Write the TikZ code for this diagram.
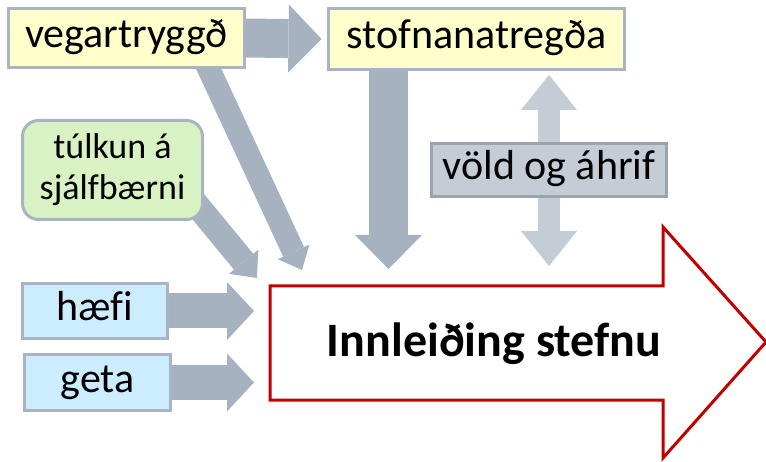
\documentclass[tikz,border=0pt]{standalone}
\usepackage{fontspec}
\setmainfont{Carlito}[Ligatures=CommonOff]
\usetikzlibrary{arrows.meta,positioning,backgrounds}
\definecolor{flowgray}{HTML}{A7B2C0}
\definecolor{lightflow}{HTML}{C4CCD6}
\definecolor{boxedge}{HTML}{A9B4C2}
\definecolor{yellowfill}{HTML}{FFFFCC}
\definecolor{bluefill}{HTML}{CCECFF}
\definecolor{greenfill}{HTML}{D9F2C4}
\definecolor{redline}{HTML}{C00000}

\begin{document}
\begin{tikzpicture}[x=1pt,y=-1pt,
    box base/.style={draw=boxedge,line width=3pt,inner sep=0pt},
    box/.style={box base,font=\fontsize{42}{46}\selectfont,text height=30pt,text depth=10pt},
    yellow box/.style={box,fill=yellowfill},
    blue box/.style={box,fill=bluefill},
    green box/.style={box base,fill=greenfill,rounded corners=16pt,align=center,
      font=\fontsize{36}{41}\selectfont},
    gray box/.style={box,fill=lightflow,draw=boxedge!85!black!90},
    flow/.style n args={3}{draw=flowgray,line width=#1,
      -{Triangle[width=#2,length=#3,line width=0pt]}},
    dbl flow/.style={draw=lightflow,line width=22pt,
      {Triangle[width=56pt,length=35pt,line width=0pt]}-{Triangle[width=56pt,length=35pt,line width=0pt]}}]

    \useasboundingbox (0,0) rectangle (766,462);

    % boxes
    \node[yellow box,minimum width=236pt,minimum height=59pt] (veg) at (126.5,38) {vegartryggð};
    \node[yellow box,minimum width=296pt,minimum height=61pt] (stofn) at (476.5,39) {stofnanatregða};
    \node[green box,minimum width=180pt,minimum height=99pt] (tulk) at (112.5,170) {túlkun á\\sjálfbærni};
    \node[blue box,minimum width=145pt,minimum height=55pt] (haefi) at (95,311) {hæfi};
    \node[blue box,minimum width=146pt,minimum height=56pt] (geta) at (97.5,382.5) {geta};
    \node[gray box,minimum width=235pt,minimum height=53pt] (vold) at (549,170) {völd og áhrif};

    % big red arrow
    \coordinate (shaftNW) at (270,286);
    \coordinate (shaftSW) at (270,400);
    \draw[redline,line width=3pt,fill=white] (shaftNW) -- (663,286) -- (663,227) -- (766,342)
      -- (663,458) -- (663,400) -- (shaftSW) -- cycle;
    \node[font=\bfseries\fontsize{48}{52}\selectfont,anchor=base] (main) at (494,356) {Innleiðing stefnu};

    % arrow ends
    \coordinate (inlet) at (254,343);
    \coordinate (downTip) at (388.5,269);
    \coordinate (vegTip) at (302,270);
    \coordinate (tulkTip) at (257,278);
    \coordinate (upTip) at (549,75);
    \coordinate (lowTip) at (549,266);

    \begin{pgfonlayer}{background}
    \draw[flow={39pt}{68pt}{33pt}] (veg.east) -- ([xshift=-5.5pt]stofn.west);
    \draw[flow={39pt}{67pt}{34pt}] (stofn.south -| downTip) -- (downTip);
    \draw[flow={23pt}{35pt}{20pt}] ([shift={(73pt,20pt)}]veg.south) -- (vegTip);
    \draw[flow={25pt}{38pt}{21pt}] ([shift={(-22pt,34pt)}]tulk.south east) -- (tulkTip);
    \draw[flow={35pt}{58pt}{27pt}] (haefi.east) -- (haefi.east -| inlet);
    \draw[flow={35pt}{58pt}{27pt}] (geta.east) -- (geta.east -| inlet);
    \draw[dbl flow] (lowTip) -- (upTip);
    \end{pgfonlayer}
\end{tikzpicture}
\end{document}
